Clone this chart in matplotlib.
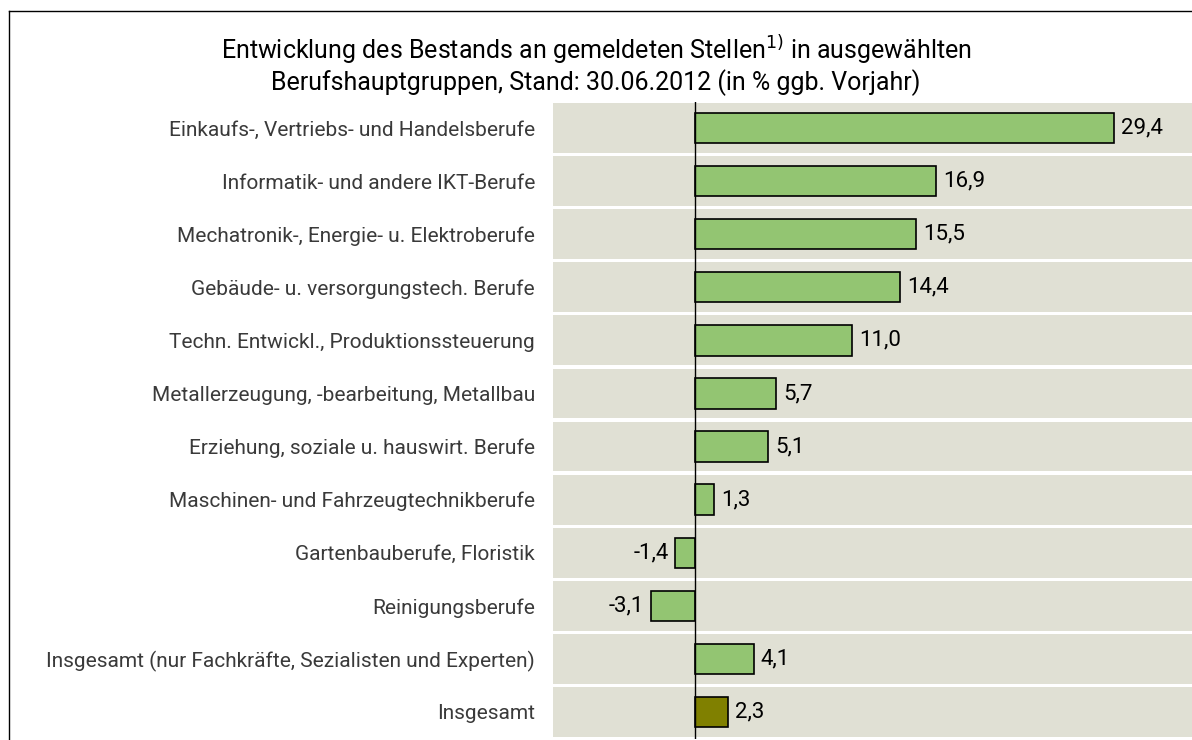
import matplotlib
matplotlib.use("Agg")
import matplotlib.pyplot as plt

# Berufshauptgruppen und Veränderung in % ggb. Vorjahr
categories = [
    "Einkaufs-, Vertriebs- und Handelsberufe",
    "Informatik- und andere IKT-Berufe",
    "Mechatronik-, Energie- u. Elektroberufe",
    "Gebäude- u. versorgungstech. Berufe",
    "Techn. Entwickl., Produktionssteuerung",
    "Metallerzeugung, -bearbeitung, Metallbau",
    "Erziehung, soziale u. hauswirt. Berufe",
    "Maschinen- und Fahrzeugtechnikberufe",
    "Gartenbauberufe, Floristik",
    "Reinigungsberufe",
    "Insgesamt (nur Fachkräfte, Sezialisten und Experten)",
    "Insgesamt",
]
values = [29.4, 16.9, 15.5, 14.4, 11.0, 5.7, 5.1, 1.3, -1.4, -3.1, 4.1, 2.3]

title = ("Entwicklung des Bestands an gemeldeten Stellen$^{1)}$ in ausgewählten\n"
         "Berufshauptgruppen, Stand: 30.06.2012 (in % ggb. Vorjahr)")

plt.rcParams["font.family"] = ["Roboto", "DejaVu Sans"]

x_min, x_max = -10, 34.9
green = "#93c572"
olive = "#808000"
stripe = "#e0e0d4"

fig = plt.figure(figsize=(11.92, 7.4), dpi=100)
ax = fig.add_axes([553 / 1192, 1.5 / 740, (1192 - 553) / 1192, 637 / 740])

y = list(range(len(categories)))

# background stripes per row
ax.barh(y, [x_max - x_min] * len(y), left=x_min, height=0.94, color=stripe, zorder=0)

colors = [olive if c == "Insgesamt" else green for c in categories]
bars = ax.barh(y, values, height=0.57, color=colors, edgecolor="black", linewidth=1.2, zorder=2)

for v, yy in zip(values, y):
    txt = f"{v:.1f}".replace(".", ",")
    if v >= 0:
        ax.annotate(txt, (v, yy), xytext=(5, 0), textcoords="offset points",
                    ha="left", va="center", fontsize=16, color="black")
    else:
        ax.annotate(txt, (v, yy), xytext=(-5, 0), textcoords="offset points",
                    ha="right", va="center", fontsize=16, color="black")

ax.axvline(0, color="black", linewidth=1, zorder=3)

ax.set_xlim(x_min, x_max)
ax.set_ylim(len(categories) - 0.5, -0.5)
ax.set_yticks(y)
ax.set_yticklabels(categories, fontsize=15, color="#3a3a3a")
ax.tick_params(axis="y", length=0, pad=13)
ax.set_xticks([])
for s in ax.spines.values():
    s.set_visible(False)

fig.text(596 / 1192, 1 - 65 / 740, title, ha="center", va="center",
         fontsize=18, linespacing=1.1)

# outer frame (left and top edges)
fig.add_artist(plt.Line2D([9 / 1192, 9 / 1192], [0, 1 - 11 / 740], color="black", linewidth=1))
fig.add_artist(plt.Line2D([9 / 1192, 1], [1 - 11 / 740, 1 - 11 / 740], color="black", linewidth=1))

fig.savefig("out.png", dpi=100)
